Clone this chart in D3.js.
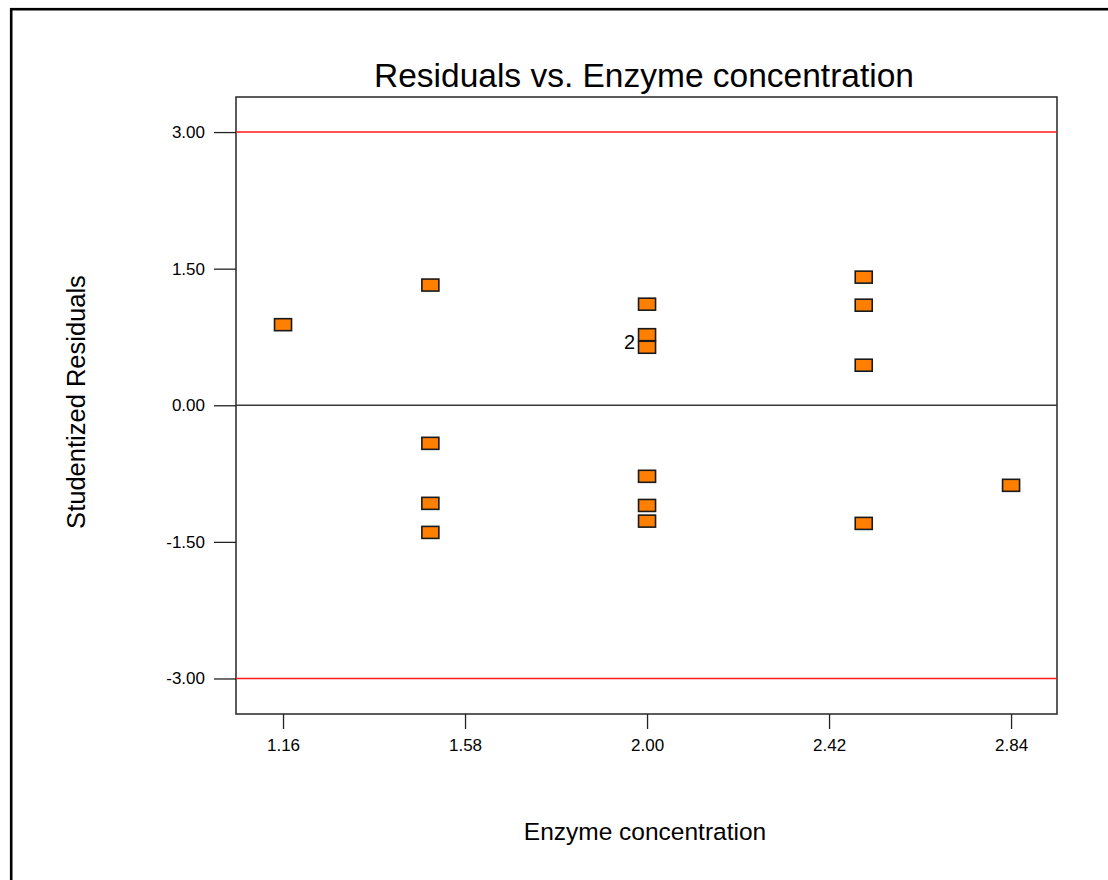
<!DOCTYPE html>
<html>
<head>
<meta charset="utf-8">
<script src="https://cdn.jsdelivr.net/npm/d3@7"></script>
<style>
  html, body { margin: 0; padding: 0; background: #fff; }
  svg { display: block; }
  text { font-family: "Liberation Sans", Arial, sans-serif; fill: #000; }
</style>
</head>
<body>
<svg id="chart" width="1108" height="880"></svg>
<script>
// Enzyme concentration levels and studentized residuals per run
const enzyme    = [1.16, 1.50, 1.50, 1.50, 1.50, 2.00, 2.00, 2.00, 2.00, 2.00, 2.00, 2.50, 2.50, 2.50, 2.50, 2.84];
const residuals = [0.885, 1.32, -0.418, -1.077, -1.396, 1.11, 0.775, 0.637, -0.78, -1.10, -1.272, 1.407, 1.099, 0.44, -1.297, -0.879];
// number of runs sharing the same point (shown as a label when > 1)
const runCount  = [1, 1, 1, 1, 1, 1, 1, 2, 1, 1, 1, 1, 1, 1, 1, 1];

const xTicks = [1.16, 1.58, 2.00, 2.42, 2.84];
const yTicks = [-3.00, -1.50, 0.00, 1.50, 3.00];
const limitLines = [-3.00, 3.00];
const xDomain = [1.0515, 2.946];
const yDomain = [-3.39, 3.385];

const title = "Residuals vs. Enzyme concentration";
const xTitle = "Enzyme concentration";
const yTitle = "Studentized Residuals";

const svg = d3.select("#chart");
const plot = { left: 236, right: 1057, top: 97, bottom: 714 };

const x = d3.scaleLinear().domain(xDomain).range([plot.left, plot.right]);
const y = d3.scaleLinear().domain(yDomain).range([plot.bottom, plot.top]);

// two-decimal labels with a plain hyphen for negatives
const fmt = d => d.toFixed(2);

// outer frame (runs off the right and bottom edges)
svg.append("rect")
  .attr("x", 11.2).attr("y", 9.2)
  .attr("width", 1200).attr("height", 1000)
  .attr("fill", "none").attr("stroke", "#000").attr("stroke-width", 2.6);

// plot box
svg.append("rect")
  .attr("x", plot.left).attr("y", plot.top)
  .attr("width", plot.right - plot.left).attr("height", plot.bottom - plot.top)
  .attr("fill", "none").attr("stroke", "#333").attr("stroke-width", 1.6);

// zero reference line
svg.append("line")
  .attr("x1", plot.left).attr("x2", plot.right)
  .attr("y1", y(0)).attr("y2", y(0))
  .attr("stroke", "#3a3a3a").attr("stroke-width", 1.6);

// control limits
svg.selectAll("line.limit").data(limitLines).join("line")
  .attr("class", "limit")
  .attr("x1", plot.left).attr("x2", plot.right)
  .attr("y1", d => y(d)).attr("y2", d => y(d))
  .attr("stroke", "#ff1a1a").attr("stroke-width", 1.6);

// y axis
const yAxis = d3.axisLeft(y).tickValues(yTicks).tickFormat(fmt)
  .tickSizeOuter(0).tickSize(22).tickPadding(9);
const gy = svg.append("g").attr("transform", `translate(${plot.left},0)`).call(yAxis);
gy.select(".domain").remove();
gy.selectAll(".tick line").attr("stroke", "#222").attr("stroke-width", 1.3);
gy.selectAll(".tick text").style("font-size", "17px").style("font-family", "'Liberation Sans', Arial, sans-serif").attr("fill", "#000");

// x axis
const xAxis = d3.axisBottom(x).tickValues(xTicks).tickFormat(fmt)
  .tickSizeOuter(0).tickSize(15).tickPadding(10);
const gx = svg.append("g").attr("transform", `translate(0,${plot.bottom})`).call(xAxis);
gx.select(".domain").remove();
gx.selectAll(".tick line").attr("stroke", "#222").attr("stroke-width", 1.3);
gx.selectAll(".tick text").style("font-size", "17px").style("font-family", "'Liberation Sans', Arial, sans-serif").attr("fill", "#000");

// residual markers
const pts = enzyme.map((e, i) => ({ e, r: residuals[i], n: runCount[i] }));
const mw = 17, mh = 12;
svg.append("g").selectAll("rect").data(pts).join("rect")
  .attr("x", d => x(d.e) - mw / 2)
  .attr("y", d => y(d.r) - mh / 2)
  .attr("width", mw).attr("height", mh)
  .attr("fill", "#ff8000")
  .attr("stroke", "#1a1a1a").attr("stroke-width", 1.6);

// multiplicity labels
svg.append("g").selectAll("text").data(pts.filter(d => d.n > 1)).join("text")
  .attr("x", d => x(d.e) - 12)
  .attr("y", d => y(d.r) + 2)
  .attr("text-anchor", "end")
  .style("font-size", "20px")
  .text(d => d.n);

// titles
svg.append("text")
  .attr("x", 644).attr("y", 87)
  .attr("text-anchor", "middle")
  .style("font-size", "33.5px")
  .text(title);

svg.append("text")
  .attr("x", 645).attr("y", 840)
  .attr("text-anchor", "middle")
  .style("font-size", "24.5px")
  .text(xTitle);

svg.append("text")
  .attr("transform", "translate(85,402) rotate(-90)")
  .attr("text-anchor", "middle")
  .style("font-size", "25.5px")
  .text(yTitle);
</script>
</body>
</html>
